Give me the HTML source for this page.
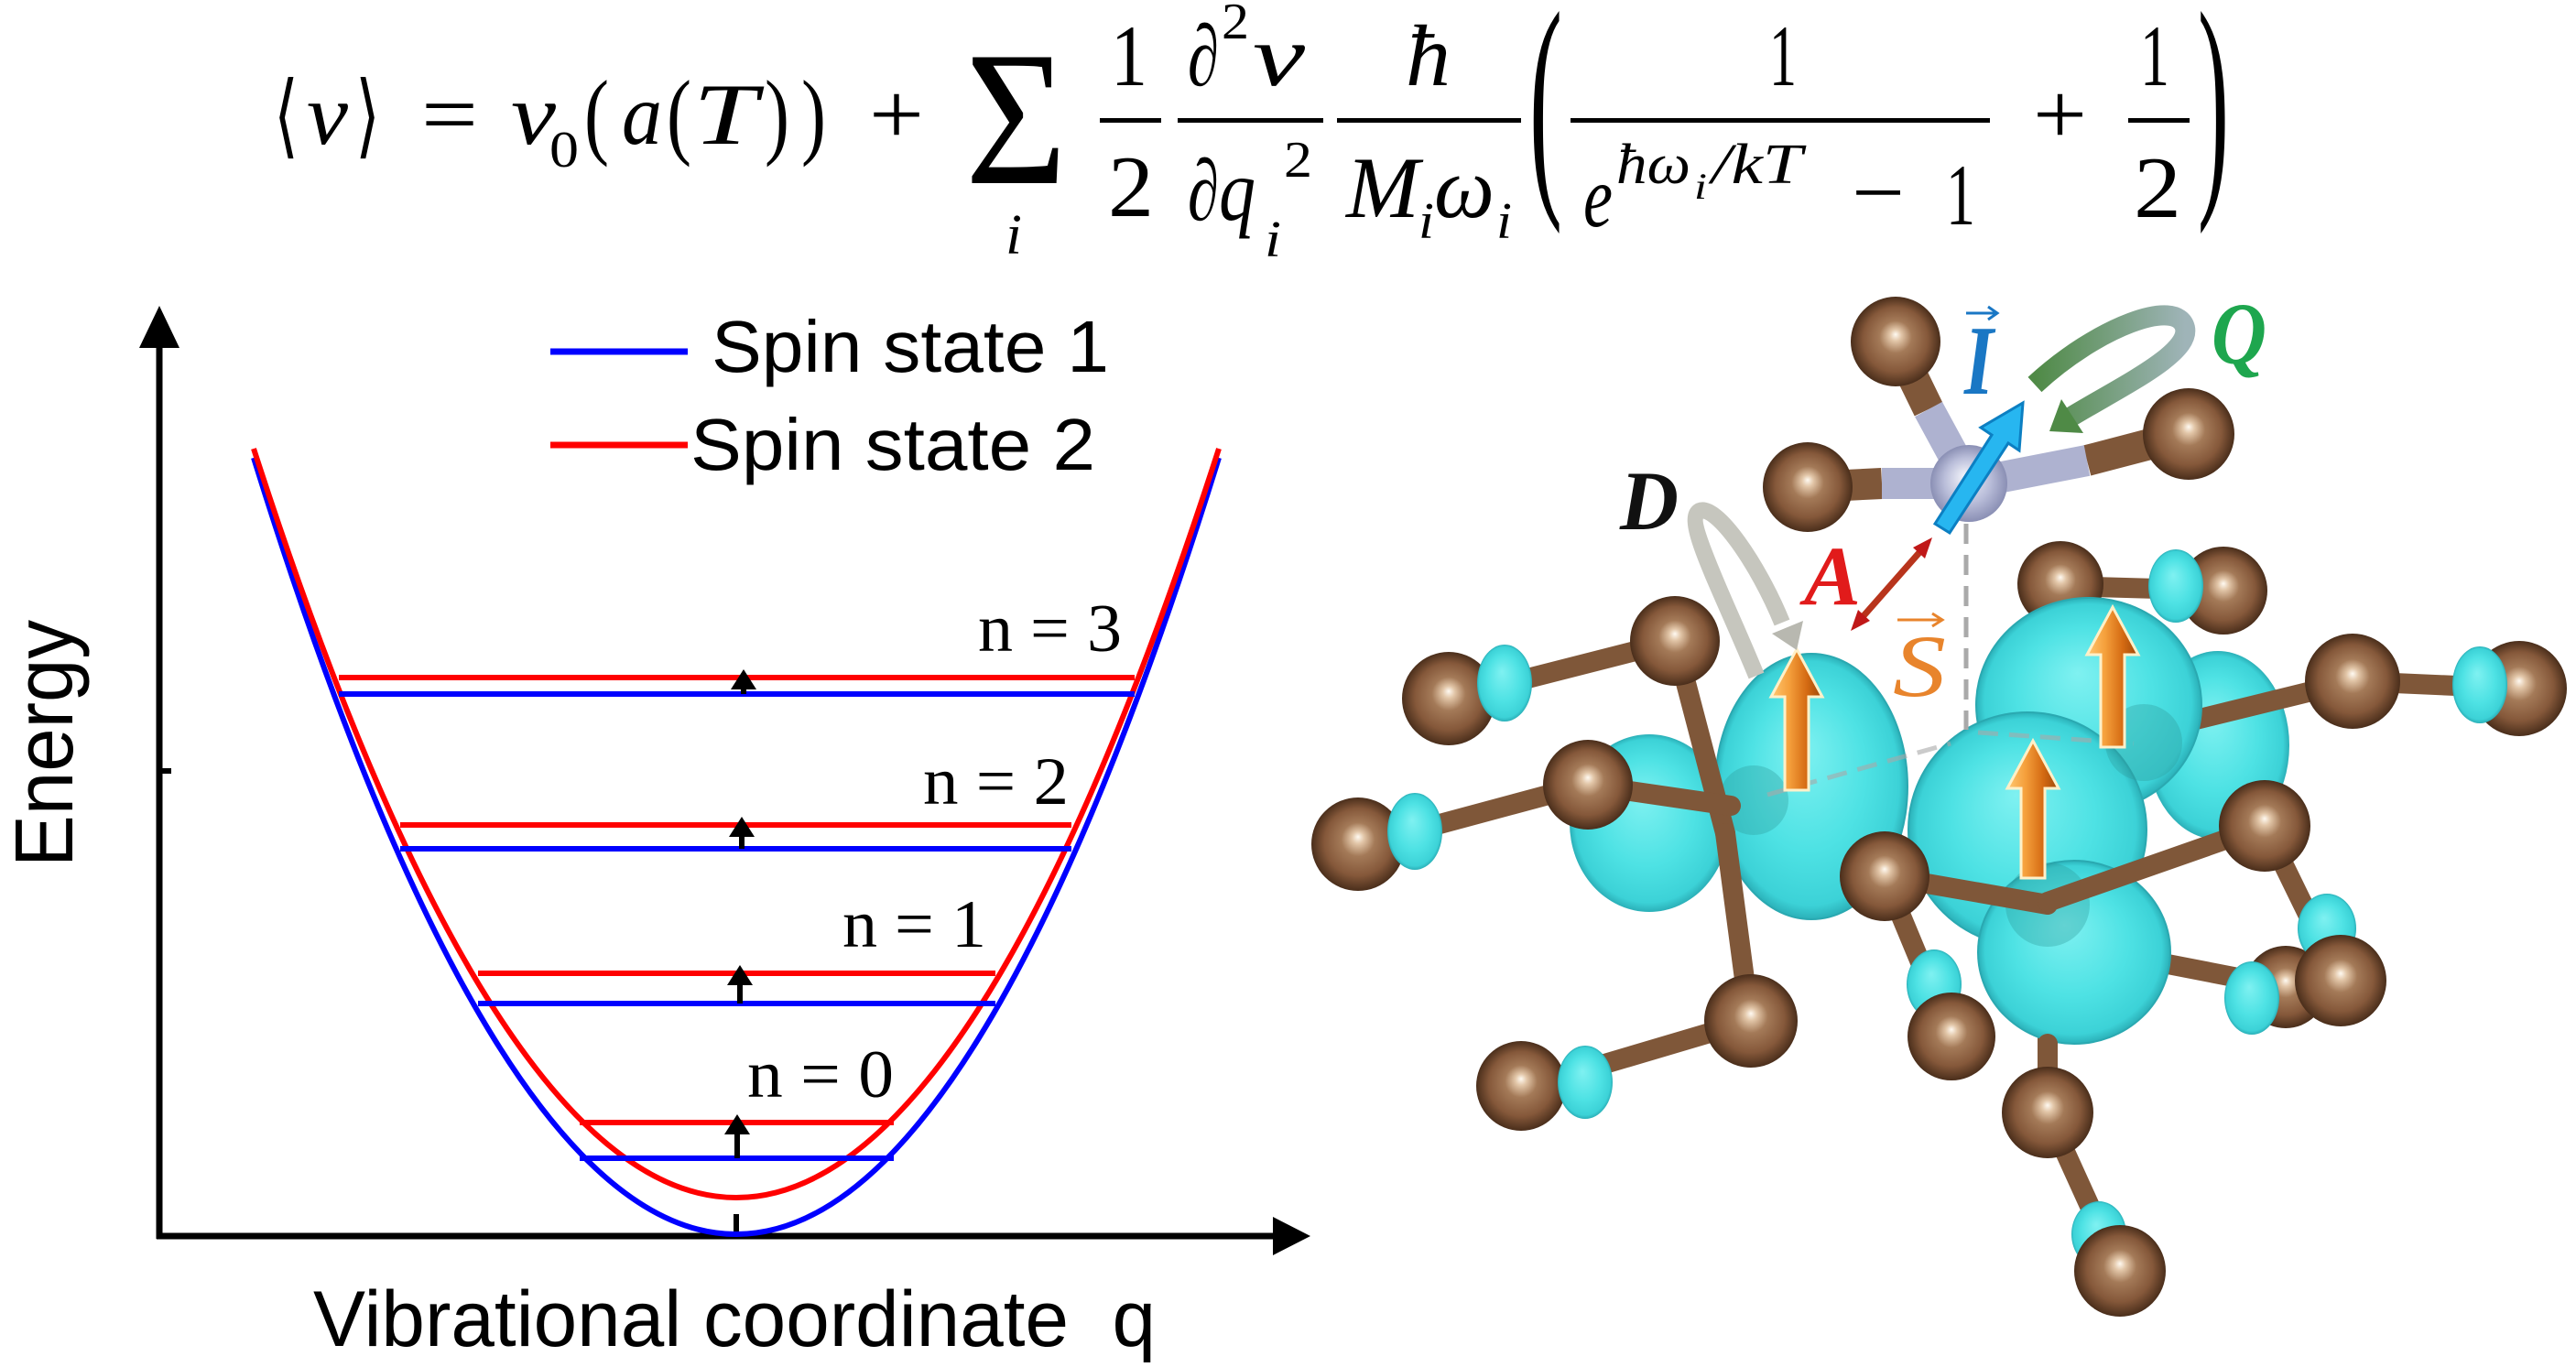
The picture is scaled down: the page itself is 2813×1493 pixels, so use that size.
<!DOCTYPE html>
<html><head><meta charset="utf-8"><style>
html,body{margin:0;padding:0;background:#fff;}
svg{display:block;}
</style></head><body>
<svg width="2813" height="1493" viewBox="0 0 2813 1493" xmlns="http://www.w3.org/2000/svg">
<defs>
<radialGradient id="gb" cx="50%" cy="50%" r="50%" fx="50%" fy="42%">
<stop offset="0" stop-color="#fffaf2"/><stop offset="0.13" stop-color="#e2c6a8"/><stop offset="0.36" stop-color="#a47a58"/><stop offset="0.72" stop-color="#85583a"/><stop offset="1" stop-color="#4a2e1b"/>
</radialGradient>
<radialGradient id="gc" cx="50%" cy="50%" r="50%" fx="45%" fy="35%">
<stop offset="0" stop-color="#7ff1f1"/><stop offset="0.6" stop-color="#4ee2e4"/><stop offset="0.92" stop-color="#3cd2d7"/><stop offset="1" stop-color="#2bb0b8"/>
</radialGradient>
<radialGradient id="gl" cx="50%" cy="50%" r="50%" fx="45%" fy="40%">
<stop offset="0" stop-color="#f4f5fb"/><stop offset="0.6" stop-color="#b9bdd9"/><stop offset="1" stop-color="#8a8fb4"/>
</radialGradient>
<linearGradient id="go" x1="0" y1="0" x2="1" y2="0">
<stop offset="0" stop-color="#ffc871"/><stop offset="0.35" stop-color="#f5a03c"/><stop offset="0.7" stop-color="#d46a12"/><stop offset="1" stop-color="#9c480a"/>
</linearGradient>
<linearGradient id="gq" x1="0" y1="0" x2="1" y2="0">
<stop offset="0" stop-color="#4f8a46"/><stop offset="1" stop-color="#9fb4b8"/>
</linearGradient>
</defs>
<rect width="2813" height="1493" fill="#fff"/>

<!-- ================= FORMULA ================= -->
<g font-family="'Liberation Serif','DejaVu Serif',serif" fill="#000" font-size="95">
<text x="299" y="160" font-family="'DejaVu Sans',sans-serif" font-size="100" textLength="27" lengthAdjust="spacingAndGlyphs">⟨</text>
<text x="335" y="157" font-style="italic" textLength="45" lengthAdjust="spacingAndGlyphs">ν</text>
<text x="388" y="160" font-family="'DejaVu Sans',sans-serif" font-size="100" textLength="27" lengthAdjust="spacingAndGlyphs">⟩</text>
<text x="460" y="157" textLength="62" lengthAdjust="spacingAndGlyphs">=</text>
<text x="558" y="157" font-style="italic" textLength="49" lengthAdjust="spacingAndGlyphs">ν</text>
<text x="600" y="182" font-size="56" textLength="32" lengthAdjust="spacingAndGlyphs">0</text>
<text x="638" y="160" font-size="105" textLength="27" lengthAdjust="spacingAndGlyphs">(</text>
<text x="679" y="157" font-style="italic" textLength="44" lengthAdjust="spacingAndGlyphs">a</text>
<text x="728" y="160" font-size="105" textLength="27" lengthAdjust="spacingAndGlyphs">(</text>
<text x="757" y="157" font-style="italic" textLength="70" lengthAdjust="spacingAndGlyphs">T</text>
<text x="835" y="160" font-size="105" textLength="27" lengthAdjust="spacingAndGlyphs">)</text>
<text x="875" y="160" font-size="105" textLength="27" lengthAdjust="spacingAndGlyphs">)</text>
<text x="949" y="157" textLength="60" lengthAdjust="spacingAndGlyphs">+</text>
<text x="1054" y="200" font-size="210" textLength="111" lengthAdjust="spacingAndGlyphs">Σ</text>
<text x="1098" y="277" font-size="62" font-style="italic" textLength="18" lengthAdjust="spacingAndGlyphs">i</text>

<text x="1213" y="93" textLength="40" lengthAdjust="spacingAndGlyphs">1</text>
<rect x="1201" y="129" width="67" height="5"/>
<text x="1210" y="236" textLength="50" lengthAdjust="spacingAndGlyphs">2</text>

<text x="1297" y="93" font-style="italic" textLength="34" lengthAdjust="spacingAndGlyphs">∂</text>
<text x="1334" y="42" font-size="56" textLength="30" lengthAdjust="spacingAndGlyphs">2</text>
<text x="1368" y="93" font-style="italic" textLength="57" lengthAdjust="spacingAndGlyphs">ν</text>
<rect x="1286" y="129" width="159" height="5"/>
<text x="1297" y="240" font-style="italic" textLength="34" lengthAdjust="spacingAndGlyphs">∂</text>
<text x="1331" y="240" font-style="italic" textLength="40" lengthAdjust="spacingAndGlyphs">q</text>
<text x="1381" y="280" font-size="56" font-style="italic" textLength="18" lengthAdjust="spacingAndGlyphs">i</text>
<text x="1402" y="193" font-size="56" textLength="31" lengthAdjust="spacingAndGlyphs">2</text>

<text x="1535" y="93" font-style="italic" textLength="49" lengthAdjust="spacingAndGlyphs">ħ</text>
<rect x="1460" y="129" width="201" height="5"/>
<text x="1470" y="237" font-style="italic" textLength="80" lengthAdjust="spacingAndGlyphs">M</text>
<text x="1549" y="260" font-size="56" font-style="italic" textLength="17" lengthAdjust="spacingAndGlyphs">i</text>
<text x="1566" y="237" font-style="italic" textLength="66" lengthAdjust="spacingAndGlyphs">ω</text>
<text x="1634" y="260" font-size="56" font-style="italic" textLength="17" lengthAdjust="spacingAndGlyphs">i</text>

<text transform="translate(1670,198) scale(1,2.68)" font-size="100" textLength="36" lengthAdjust="spacingAndGlyphs">(</text>
<text x="1932" y="93" textLength="30" lengthAdjust="spacingAndGlyphs">1</text>
<rect x="1715" y="129" width="458" height="5"/>
<text x="1729" y="247" font-style="italic" textLength="32" lengthAdjust="spacingAndGlyphs">e</text>
<text x="1765" y="200" font-size="62" font-style="italic" textLength="81" lengthAdjust="spacingAndGlyphs">ħω</text>
<text x="1850" y="217" font-size="40" font-style="italic" textLength="14" lengthAdjust="spacingAndGlyphs">i</text>
<text x="1869" y="200" font-size="62" font-style="italic" textLength="99" lengthAdjust="spacingAndGlyphs">/kT</text>
<text x="2022" y="242" textLength="58" lengthAdjust="spacingAndGlyphs">−</text>
<text x="2125" y="245" textLength="32" lengthAdjust="spacingAndGlyphs">1</text>
<text x="2220" y="157" textLength="59" lengthAdjust="spacingAndGlyphs">+</text>
<text x="2337" y="93" textLength="32" lengthAdjust="spacingAndGlyphs">1</text>
<rect x="2324" y="129" width="67" height="5"/>
<text x="2330" y="237" textLength="52" lengthAdjust="spacingAndGlyphs">2</text>
<text transform="translate(2400,198) scale(1,2.68)" font-size="100" textLength="34" lengthAdjust="spacingAndGlyphs">)</text>
</g>

<!-- ================= PLOT ================= -->
<g>
<line x1="174" y1="1353" x2="174" y2="372" stroke="#000" stroke-width="7"/>
<polygon points="174,334 152,380 196,380" fill="#000"/>
<line x1="171" y1="1350" x2="1395" y2="1350" stroke="#000" stroke-width="7"/>
<polygon points="1431,1350 1390,1329 1390,1371" fill="#000"/>
<line x1="174" y1="842" x2="187" y2="842" stroke="#000" stroke-width="6"/>
<line x1="804" y1="1326" x2="804" y2="1350" stroke="#000" stroke-width="6"/>

<path d="M277,500 Q804,2196 1331,500" stroke="#0000ff" stroke-width="6" fill="none"/>
<path d="M277,490 Q804,2126 1331,490" stroke="#ff0000" stroke-width="6" fill="none"/>

<g stroke-width="6">
<line x1="370" y1="740" x2="1239" y2="740" stroke="#ff0000"/>
<line x1="370" y1="758" x2="1239" y2="758" stroke="#0000ff"/>
<line x1="437" y1="901" x2="1170" y2="901" stroke="#ff0000"/>
<line x1="437" y1="927" x2="1170" y2="927" stroke="#0000ff"/>
<line x1="522" y1="1063" x2="1087" y2="1063" stroke="#ff0000"/>
<line x1="522" y1="1096" x2="1087" y2="1096" stroke="#0000ff"/>
<line x1="633" y1="1226" x2="976" y2="1226" stroke="#ff0000"/>
<line x1="633" y1="1265" x2="976" y2="1265" stroke="#0000ff"/>
</g>
<g fill="#000" stroke="#000" stroke-width="6">
<line x1="812" y1="758" x2="812" y2="750"/>
<line x1="810" y1="927" x2="810" y2="912"/>
<line x1="808" y1="1096" x2="808" y2="1074"/>
<line x1="805" y1="1265" x2="805" y2="1237"/>
</g>
<g fill="#000">
<polygon points="812,731 798,753 826,753"/>
<polygon points="810,892 796,914 824,914"/>
<polygon points="808,1054 794,1076 822,1076"/>
<polygon points="805,1217 791,1239 819,1239"/>
</g>

<line x1="601" y1="384" x2="751" y2="384" stroke="#0000ff" stroke-width="7"/>
<line x1="601" y1="486" x2="751" y2="486" stroke="#ff0000" stroke-width="7"/>
<g font-family="'Liberation Sans',Arial,sans-serif" fill="#000" font-size="80">
<text x="777" y="406" textLength="434" lengthAdjust="spacingAndGlyphs">Spin state 1</text>
<text x="754" y="513" textLength="442" lengthAdjust="spacingAndGlyphs">Spin state 2</text>
<text transform="translate(79,812) rotate(-90)" text-anchor="middle" font-size="90" textLength="270" lengthAdjust="spacingAndGlyphs">Energy</text>
<text x="342" y="1470" font-size="86" textLength="920" lengthAdjust="spacingAndGlyphs" style="white-space:pre" xml:space="preserve">Vibrational coordinate  q</text>
</g>
<g font-family="'Liberation Serif','Times New Roman',serif" fill="#000" font-size="74">
<text x="1068" y="711" textLength="157" lengthAdjust="spacingAndGlyphs" style="white-space:pre" xml:space="preserve">n = 3</text>
<text x="1008" y="878" textLength="159" lengthAdjust="spacingAndGlyphs" style="white-space:pre" xml:space="preserve">n = 2</text>
<text x="920" y="1034" textLength="157" lengthAdjust="spacingAndGlyphs" style="white-space:pre" xml:space="preserve">n = 1</text>
<text x="816" y="1198" textLength="160" lengthAdjust="spacingAndGlyphs" style="white-space:pre" xml:space="preserve">n = 0</text>
</g>
</g>

<!-- ================= MOLECULE ================= -->
<g>
<!-- back lobes -->
<ellipse cx="2422" cy="814" rx="78" ry="103" fill="url(#gc)"/>
<ellipse cx="1801" cy="899" rx="87" ry="97" fill="url(#gc)"/>

<!-- back bonds -->
<g stroke="#7f5739" stroke-width="22" stroke-linecap="round">
<line x1="2341" y1="800" x2="2569" y2="744"/>
<line x1="2569" y1="744" x2="2751" y2="752"/>
<line x1="2248" y1="640" x2="2428" y2="645"/>
<line x1="2236" y1="988" x2="2236" y2="1216"/>
<line x1="2300" y1="1040" x2="2496" y2="1078"/>
</g>
<!-- back atoms -->
<circle cx="2428" cy="645" r="48" fill="url(#gb)"/>
<ellipse cx="2376" cy="640" rx="30" ry="40" fill="url(#gc)"/>
<circle cx="2250" cy="638" r="47" fill="url(#gb)"/>
<circle cx="2569" cy="744" r="52" fill="url(#gb)"/>
<circle cx="2751" cy="752" r="52" fill="url(#gb)"/>
<ellipse cx="2708" cy="748" rx="30" ry="42" fill="url(#gc)"/>
<circle cx="2496" cy="1078" r="45" fill="url(#gb)"/>
<ellipse cx="2459" cy="1090" rx="30" ry="40" fill="url(#gc)"/>

<!-- front lobes -->
<g stroke="#2aa9b1" stroke-width="2">
<ellipse cx="1978" cy="859" rx="105" ry="145" fill="url(#gc)"/>
<ellipse cx="2281" cy="770" rx="123" ry="117" fill="url(#gc)"/>
<ellipse cx="2214" cy="906" rx="130" ry="128" fill="url(#gc)"/>
<ellipse cx="2265" cy="1040" rx="105" ry="100" fill="url(#gc)"/>
</g>
<!-- metal centers seen through -->
<g fill="#2e9a9c" opacity="0.35">
<circle cx="1915" cy="874" r="38"/>
<circle cx="2341" cy="811" r="42"/>
<circle cx="2236" cy="988" r="46"/>
</g>

<!-- front bonds -->
<g stroke="#7f5739" stroke-width="22" stroke-linecap="round">
<line x1="1582" y1="763" x2="1829" y2="700"/>
<line x1="1829" y1="700" x2="1884" y2="910"/>
<line x1="1884" y1="910" x2="1911" y2="1115"/>
<line x1="1483" y1="924" x2="1732" y2="857"/>
<line x1="1732" y1="857" x2="1890" y2="880"/>
<line x1="1911" y1="1115" x2="1661" y2="1189"/>
<line x1="2058" y1="957" x2="2236" y2="988"/>
<line x1="2058" y1="957" x2="2131" y2="1133"/>
<line x1="2236" y1="985" x2="2473" y2="902"/>
<line x1="2473" y1="902" x2="2555" y2="1070"/>
<line x1="2236" y1="1140" x2="2236" y2="1216"/>
<line x1="2236" y1="1216" x2="2315" y2="1390"/>
</g>
<!-- front atoms -->
<circle cx="1829" cy="700" r="49" fill="url(#gb)"/>
<circle cx="1582" cy="763" r="51" fill="url(#gb)"/>
<ellipse cx="1643" cy="746" rx="30" ry="42" fill="url(#gc)"/>
<circle cx="1734" cy="857" r="49" fill="url(#gb)"/>
<circle cx="1483" cy="922" r="51" fill="url(#gb)"/>
<ellipse cx="1545" cy="908" rx="30" ry="42" fill="url(#gc)"/>
<circle cx="1912" cy="1115" r="51" fill="url(#gb)"/>
<circle cx="1661" cy="1186" r="49" fill="url(#gb)"/>
<ellipse cx="1731" cy="1182" rx="30" ry="40" fill="url(#gc)"/>
<circle cx="2058" cy="957" r="49" fill="url(#gb)"/>
<ellipse cx="2112" cy="1075" rx="30" ry="38" fill="url(#gc)"/>
<circle cx="2131" cy="1132" r="48" fill="url(#gb)"/>
<circle cx="2473" cy="902" r="50" fill="url(#gb)"/>
<ellipse cx="2541" cy="1014" rx="32" ry="38" fill="url(#gc)"/>
<circle cx="2556" cy="1071" r="50" fill="url(#gb)"/>
<circle cx="2236" cy="1215" r="50" fill="url(#gb)"/>
<ellipse cx="2292" cy="1348" rx="30" ry="36" fill="url(#gc)"/>
<circle cx="2315" cy="1388" r="50" fill="url(#gb)"/>

<!-- dashed lines -->
<g stroke="#a9a9a9" stroke-width="5" stroke-dasharray="22 12" fill="none">
<line x1="2147" y1="572" x2="2147" y2="797"/>
<line x1="1930" y1="868" x2="2130" y2="812" opacity="0.6"/>
<line x1="2160" y1="800" x2="2330" y2="812" opacity="0.6"/>
</g>

<!-- orange spin arrows -->
<g fill="url(#go)" stroke="#fff0c8" stroke-width="3">
<polygon points="1949,863 1949,761 1934,761 1962,709 1990,761 1975,761 1975,863"/>
<polygon points="2294,816 2294,715 2279,715 2307,663 2335,715 2320,715 2320,816"/>
<polygon points="2207,959 2207,861 2192,861 2220,809 2248,861 2233,861 2233,959"/>
</g>

<!-- top group -->
<g stroke-width="34" stroke-linecap="butt">
<line x1="2070" y1="373" x2="2106" y2="447" stroke="#7f5739"/>
<line x1="2106" y1="447" x2="2150" y2="528" stroke="#aeb2d0"/>
<line x1="1974" y1="532" x2="2055" y2="528" stroke="#7f5739"/>
<line x1="2055" y1="528" x2="2150" y2="528" stroke="#aeb2d0"/>
<line x1="2390" y1="474" x2="2279" y2="503" stroke="#7f5739"/>
<line x1="2279" y1="503" x2="2150" y2="528" stroke="#aeb2d0"/>
</g>
<circle cx="2070" cy="373" r="49" fill="url(#gb)"/>
<circle cx="1974" cy="532" r="49" fill="url(#gb)"/>
<circle cx="2390" cy="474" r="50" fill="url(#gb)"/>
<circle cx="2150" cy="528" r="42" fill="url(#gl)"/>

<!-- blue I arrow -->
<polygon points="2113,572 2175,475 2163,467 2209,440 2205,492 2193,484 2129,582" fill="#27b6f0" stroke="#0c7fc2" stroke-width="3"/>

<!-- Q loop -->
<path d="M2222,420 C2290,357 2378,324 2386,358 C2392,386 2320,420 2262,455" fill="none" stroke="url(#gq)" stroke-width="22"/>
<polygon points="2238,471 2251,436 2275,473" fill="#4f8a46"/>

<!-- D loop -->
<path d="M1918,738 C1880,645 1838,568 1856,558 C1874,550 1920,616 1946,680" fill="none" stroke="#c6c6be" stroke-width="18"/>
<polygon points="1962,710 1935,692 1969,678" fill="#b8b8b0"/>

<!-- A double arrow -->
<line x1="2032" y1="676" x2="2099" y2="600" stroke="#b8341c" stroke-width="7"/>
<polygon points="2110,587 2102,610 2089,598" fill="#c01818"/>
<polygon points="2021,689 2029,666 2042,678" fill="#c01818"/>

<!-- labels -->
<g font-family="'Liberation Serif','DejaVu Serif',serif" font-style="italic" font-weight="bold">
<text x="1769" y="578" font-size="92" fill="#111" textLength="64" lengthAdjust="spacingAndGlyphs">D</text>
<text x="1970" y="660" font-size="92" fill="#e11b1b" textLength="62" lengthAdjust="spacingAndGlyphs">A</text>
<text x="2067" y="760" font-size="96" fill="#e8842c" textLength="58" lengthAdjust="spacingAndGlyphs" font-weight="normal">S</text>
<text x="2145" y="430" font-size="108" fill="#1a77c4" textLength="32" lengthAdjust="spacingAndGlyphs">I</text>
<text x="2415" y="397" font-size="96" fill="#1ea64e" textLength="60" lengthAdjust="spacingAndGlyphs">Q</text>
</g>
<g stroke-width="3" fill="none">
<line x1="2072" y1="677" x2="2120" y2="677" stroke="#e8842c"/>
<polyline points="2110,670 2121,677 2110,684" stroke="#e8842c"/>
<line x1="2147" y1="342" x2="2180" y2="342" stroke="#1a77c4"/>
<polyline points="2171,335 2181,342 2171,349" stroke="#1a77c4"/>
</g>
</g>
</svg>
</body></html>
